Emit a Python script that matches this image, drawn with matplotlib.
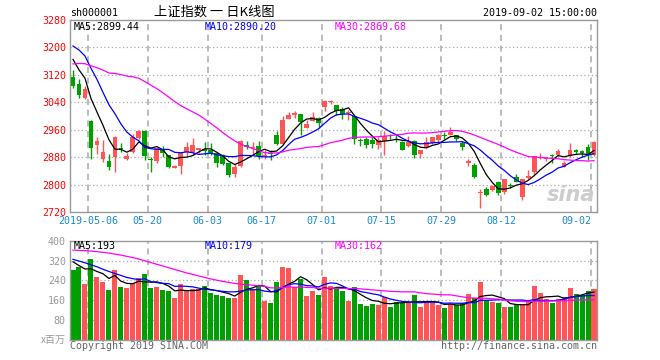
import matplotlib
matplotlib.use("Agg")
import matplotlib.pyplot as plt
import numpy as np
import pandas as pd

# ---------------- data ----------------
holidays = ['2019-05-01', '2019-05-02', '2019-05-03', '2019-06-07']
dates = pd.bdate_range('2019-04-26', '2019-09-02', freq='C', holidays=holidays)

opens = [3113, 3094, 3052, 2986, 2915, 2874, 2870, 2881, 2906, 2876,
         2895, 2935, 2956, 2875, 2868, 2900, 2886, 2848, 2854, 2895,
         2894, 2902, 2903, 2902, 2891, 2886, 2863, 2832, 2853, 2916,
         2906, 2913, 2884, 2893, 2944, 2917, 2991, 3004, 3005, 2966,
         2986, 2993, 3027, 3041, 3032, 3019, 3008, 3000, 2931, 2934,
         2929, 2915, 2926, 2940, 2934, 2923, 2913, 2927, 2889, 2910,
         2920, 2929, 2944, 2946, 2944, 2922, 2863, 2856, 2776, 2788,
         2785, 2808, 2778, 2800, 2822, 2764, 2819, 2837, 2877, 2876,
         2886, 2886, 2852, 2884, 2901, 2897, 2910, 2886]
highs = [3133, 3108, 3088, 2988, 2938, 2929, 2888, 2941, 2921, 2891,
         2947, 2958, 2958, 2881, 2907, 2913, 2886, 2856, 2895, 2923,
         2937, 2908, 2923, 2922, 2891, 2889, 2863, 2861, 2929, 2927,
         2923, 2927, 2900, 2902, 2957, 3000, 3011, 3015, 3005, 2988,
         3011, 2996, 3048, 3048, 3032, 3025, 3018, 3000, 2937, 2939,
         2939, 2939, 2956, 2948, 2944, 2927, 2941, 2930, 2902, 2939,
         2939, 2947, 2952, 2968, 2944, 2927, 2874, 2863, 2788, 2792,
         2798, 2810, 2815, 2806, 2830, 2816, 2842, 2883, 2893, 2881,
         2888, 2903, 2868, 2922, 2905, 2900, 2917, 2927]
lows = [3083, 3052, 3050, 2874, 2888, 2865, 2842, 2837, 2894, 2871,
        2893, 2934, 2872, 2837, 2864, 2881, 2847, 2847, 2831, 2884,
        2886, 2893, 2885, 2886, 2852, 2856, 2822, 2822, 2852, 2903,
        2888, 2876, 2874, 2871, 2915, 2915, 2991, 2993, 2946, 2964,
        2985, 2964, 3015, 3034, 3003, 2991, 2988, 2918, 2913, 2907,
        2907, 2903, 2886, 2933, 2925, 2900, 2910, 2878, 2878, 2907,
        2917, 2923, 2933, 2944, 2927, 2900, 2855, 2819, 2732, 2766,
        2780, 2770, 2773, 2790, 2807, 2756, 2815, 2829, 2876, 2870,
        2864, 2883, 2850, 2881, 2888, 2881, 2871, 2883]
closes = [3086.40, 3062.50, 3078.34, 2906.46, 2926.39, 2893.76, 2850.95, 2939.21, 2903.71, 2883.61,
          2938.68, 2955.71, 2882.30, 2870.60, 2905.97, 2891.70, 2852.52, 2852.99, 2892.38, 2909.91,
          2914.70, 2905.81, 2898.70, 2890.08, 2862.28, 2861.42, 2827.80, 2852.13, 2925.72, 2909.38,
          2910.74, 2881.97, 2887.62, 2890.16, 2917.80, 2987.12, 3001.98, 3008.15, 2982.07, 2976.28,
          2996.79, 2978.88, 3044.90, 3043.94, 3015.26, 3005.25, 3011.06, 2933.36, 2928.23, 2915.30,
          2917.76, 2930.55, 2942.19, 2937.62, 2931.69, 2901.95, 2924.20, 2886.97, 2899.94, 2923.28,
          2937.36, 2944.54, 2941.01, 2952.34, 2932.51, 2908.77, 2867.84, 2821.50, 2777.56, 2768.68,
          2794.55, 2774.75, 2814.99, 2797.26, 2808.91, 2815.80, 2823.82, 2883.10, 2880.00, 2880.33,
          2883.44, 2897.43, 2863.57, 2902.19, 2893.76, 2890.92, 2886.24, 2924.11]

ma5 = [3165.2, 3134.6, 3110.4, 3051.2, 3011.6, 2973.2, 2931.0, 2903.2, 2902.8, 2894.4,
       2903.4, 2924.4, 2913.0, 2906.4, 2910.8, 2901.4, 2880.8, 2875.0, 2879.2, 2880.0,
       2884.6, 2895.2, 2904.4, 2904.0, 2894.4, 2883.6, 2868.0, 2858.6, 2865.8, 2875.2,
       2885.2, 2896.0, 2903.2, 2896.0, 2897.8, 2913.0, 2937.0, 2961.0, 2979.4, 2991.0,
       2993.0, 2988.4, 2995.8, 3008.2, 3016.0, 3017.6, 3024.0, 3001.6, 2978.4, 2958.4,
       2941.0, 2925.0, 2926.8, 2928.8, 2932.2, 2929.0, 2927.6, 2916.6, 2909.0, 2907.2,
       2914.2, 2918.4, 2929.2, 2939.6, 2941.6, 2936.0, 2920.6, 2896.8, 2862.0, 2829.2,
       2806.4, 2787.8, 2786.4, 2790.2, 2798.2, 2802.4, 2812.2, 2825.8, 2842.4, 2856.6,
       2870.0, 2884.6, 2880.8, 2885.2, 2888.0, 2889.6, 2887.4, 2899.4]
ma10 = [3204.2, 3192.6, 3175.0, 3139.3, 3106.9, 3069.2, 3032.8, 3006.8, 2977.0, 2953.0,
        2938.3, 2927.7, 2908.1, 2904.6, 2902.6, 2902.4, 2902.6, 2894.0, 2892.8, 2895.4,
        2893.0, 2888.0, 2889.7, 2891.6, 2887.2, 2884.1, 2881.6, 2881.5, 2884.9, 2884.8,
        2884.4, 2882.0, 2880.9, 2880.9, 2886.5, 2899.1, 2916.5, 2932.1, 2937.7, 2944.4,
        2953.0, 2962.7, 2978.4, 2993.8, 3003.5, 3005.3, 3006.2, 2998.7, 2993.3, 2987.2,
        2979.3, 2974.5, 2964.2, 2953.6, 2945.3, 2935.0, 2926.3, 2921.7, 2918.9, 2919.7,
        2921.6, 2923.0, 2922.9, 2924.3, 2924.4, 2925.1, 2919.5, 2913.0, 2900.8, 2885.4,
        2871.2, 2854.2, 2841.6, 2826.1, 2813.7, 2804.4, 2800.0, 2806.1, 2816.3, 2827.4,
        2836.2, 2848.4, 2853.3, 2863.8, 2872.3, 2879.8, 2886.0, 2890.2]
ma30 = [3151.9, 3153.2, 3152.6, 3146.4, 3140.9, 3134.0, 3125.6, 3124.0, 3120.9, 3116.3,
        3114.4, 3109.9, 3100.3, 3090.1, 3079.8, 3067.9, 3054.9, 3042.0, 3030.3, 3021.0,
        3011.8, 3002.8, 2990.9, 2978.5, 2965.6, 2951.9, 2939.0, 2927.4, 2918.2, 2911.1,
        2905.2, 2899.2, 2892.9, 2892.4, 2892.1, 2895.2, 2900.2, 2902.5, 2905.1, 2908.2,
        2910.1, 2910.9, 2916.3, 2922.1, 2925.7, 2929.5, 2934.8, 2937.4, 2938.6, 2938.8,
        2938.9, 2939.7, 2941.2, 2942.8, 2945.1, 2946.5, 2949.7, 2950.8, 2950.0, 2950.4,
        2951.3, 2953.4, 2955.2, 2957.2, 2957.7, 2955.1, 2950.7, 2944.5, 2937.7, 2930.8,
        2924.0, 2917.2, 2909.6, 2901.3, 2894.5, 2888.2, 2881.9, 2880.3, 2878.7, 2877.5,
        2876.3, 2875.2, 2872.6, 2871.4, 2870.1, 2869.8, 2868.5, 2869.7]

volume = [282, 295, 225, 326, 254, 235, 201, 282, 213, 209,
          231, 250, 266, 209, 213, 201, 197, 170, 224, 201,
          204, 204, 217, 188, 181, 177, 170, 170, 262, 242,
          204, 221, 158, 150, 235, 294, 290, 212, 244, 177,
          197, 181, 255, 217, 208, 199, 158, 212, 145, 137,
          145, 141, 172, 134, 154, 150, 150, 181, 134, 158,
          150, 141, 130, 145, 141, 148, 185, 168, 235, 161,
          154, 150, 134, 134, 145, 145, 154, 217, 191, 164,
          150, 164, 172, 211, 185, 180, 199, 205]
vol_ma5 = [315, 300, 286, 287, 276, 267, 248, 260, 237, 228,
           227, 237, 234, 233, 234, 228, 217, 198, 201, 199,
           199, 201, 210, 203, 199, 193, 187, 177, 192, 204,
           210, 220, 217, 195, 194, 212, 225, 236, 255, 243,
           224, 202, 211, 205, 212, 212, 207, 199, 184, 170,
           159, 156, 148, 146, 149, 150, 152, 154, 154, 155,
           155, 153, 143, 145, 141, 141, 150, 157, 175, 179,
           181, 174, 167, 147, 143, 142, 142, 159, 170, 174,
           175, 177, 168, 172, 176, 182, 189, 193]
vol_ma10 = [325, 318, 311, 303, 295, 285, 276, 268, 260, 252,
            247, 243, 247, 235, 231, 228, 227, 216, 217, 216,
            214, 209, 204, 202, 199, 196, 194, 194, 197, 202,
            202, 203, 197, 194, 199, 211, 223, 227, 225, 219,
            218, 214, 224, 230, 228, 218, 205, 205, 195, 191,
            186, 182, 173, 165, 160, 155, 154, 151, 150, 152,
            152, 152, 148, 149, 148, 148, 151, 150, 160, 160,
            161, 162, 162, 161, 161, 161, 158, 163, 159, 159,
            158, 160, 164, 171, 175, 177, 179, 179]
vol_ma30 = [362, 361, 360, 358, 356, 353, 350, 346, 342, 337,
            332, 326, 319, 312, 305, 298, 291, 284, 277, 270,
            264, 258, 252, 246, 241, 236, 232, 228, 225, 223,
            221, 218, 216, 210, 210, 211, 214, 212, 213, 212,
            211, 209, 208, 209, 208, 208, 207, 208, 206, 204,
            202, 200, 198, 196, 195, 194, 194, 194, 190, 187,
            185, 183, 182, 182, 178, 174, 170, 169, 168, 168,
            166, 165, 161, 158, 156, 155, 155, 155, 156, 157,
            157, 158, 158, 160, 161, 161, 162, 162]

date_ticks = ['2019-05-06', '2019-05-20', '2019-06-03', '2019-06-17', '2019-07-01',
              '2019-07-15', '2019-07-29', '2019-08-12', '2019-09-02']
price_ticks = [2720, 2800, 2880, 2960, 3040, 3120, 3200, 3280]
vol_ticks = [80, 160, 240, 320, 400]

# ---------------- style ----------------
RED = '#ff5555'
GREEN = '#00a000'
GRID = '#aaaaaa'
SPINE = '#999999'
MONO = 'DejaVu Sans Mono'
CJK = ['Noto Sans CJK SC', 'DejaVu Sans']
FS = 7.2

W, H = 660, 360
fig = plt.figure(figsize=(W / 100, H / 100), dpi=100)
fig.patch.set_facecolor('white')


def fx(x):
    return x / W


def fy(y):
    return 1 - y / H


ax = fig.add_axes([fx(70), fy(212), fx(597) - fx(70), fy(20) - fy(212)])
axv = fig.add_axes([fx(70), fy(340), fx(597) - fx(70), fy(240.7) - fy(340)])

n = len(closes)
x = np.arange(n)
o = np.array(opens, float)
c = np.array(closes, float)
h = np.array(highs, float)
l = np.array(lows, float)
up = c >= o
cols = np.where(up, RED, GREEN)

date_str = [d.strftime('%Y-%m-%d') for d in dates]
tick_idx = [date_str.index(d) for d in date_ticks]
tick_pos = [i - 0.5 for i in tick_idx]
tick_lbl = [date_ticks[0]] + [d[5:] for d in date_ticks[1:]]

for a in (ax, axv):
    a.set_xlim(-0.5, n - 0.5)
    for s in a.spines.values():
        s.set_color(SPINE)
        s.set_linewidth(1.0)
    for p in tick_pos:
        a.axvline(p, color=GRID, lw=1.1, ls=(0, (4, 3)), zorder=0)
    a.set_facecolor('white')

# main panel
ax.set_ylim(2720, 3280)
for yv in price_ticks[1:-1]:
    ax.axhline(yv, color=GRID, lw=0.9, ls=(0, (1, 2)), zorder=0)
ax.vlines(x, l, h, colors=cols, lw=1.0, zorder=2)
body = np.maximum(np.abs(c - o), 2.2)
ax.bar(x, body, bottom=np.minimum(o, c), width=0.8, color=cols, lw=0, zorder=3)
ax.plot(x, ma5, color='black', lw=0.9, zorder=4)
ax.plot(x, ma10, color='#0000ff', lw=0.9, zorder=4)
ax.plot(x, ma30, color='#ff00ff', lw=0.9, zorder=4)
ax.set_yticks(price_ticks)
ax.set_yticklabels([str(t) for t in price_ticks], color='#ff0000', fontsize=FS, family=MONO)
ax.set_xticks(tick_pos)
ax.set_xticklabels(tick_lbl, color='#1a88d8', fontsize=FS, family=MONO)
ax.tick_params(length=0, pad=3)
ax.tick_params(axis='x', pad=3)
ax.get_xticklabels()[-1].set_horizontalalignment('right')

# volume panel
axv.set_ylim(0, 400)
for yv in vol_ticks[:-1]:
    axv.axhline(yv, color=GRID, lw=0.9, ls=(0, (1, 2)), zorder=0)
axv.bar(x, volume, width=0.84, color=cols, lw=0, zorder=2)
axv.plot(x, vol_ma5, color='black', lw=0.9, zorder=4)
axv.plot(x, vol_ma10, color='#0000ff', lw=0.9, zorder=4)
axv.plot(x, vol_ma30, color='#ff00ff', lw=0.9, zorder=4)
axv.set_yticks(vol_ticks)
axv.set_yticklabels([str(t) for t in vol_ticks], color='#999999', fontsize=FS, family=MONO)
axv.set_xticks([])
axv.tick_params(length=0, pad=3)

# texts
fig.text(fx(70), fy(13), 'sh000001', fontsize=FS, family=MONO, color='black', va='center', ha='left')
fig.text(fx(214), fy(12), '上证指数 一 日K线图', fontsize=9.5, family=CJK, color='black', va='center', ha='center')
fig.text(fx(597), fy(13), '2019-09-02 15:00:00', fontsize=FS, family=MONO, color='black', va='center', ha='right')

fig.text(fx(74), fy(26.5), 'MA5:2899.44', fontsize=FS, family=MONO, color='black', va='center')
fig.text(fx(205), fy(26.5), 'MA10:2890.20', fontsize=FS, family=MONO, color='#0000ff', va='center')
fig.text(fx(335), fy(26.5), 'MA30:2869.68', fontsize=FS, family=MONO, color='#ff00ff', va='center')

fig.text(fx(74), fy(246), 'MA5:193', fontsize=FS, family=MONO, color='black', va='center')
fig.text(fx(205), fy(246), 'MA10:179', fontsize=FS, family=MONO, color='#0000ff', va='center')
fig.text(fx(335), fy(246), 'MA30:162', fontsize=FS, family=MONO, color='#ff00ff', va='center')

fig.text(fx(66), fy(340), 'x百万', fontsize=FS, family=CJK, color='#999999', va='center', ha='right')
fig.text(fx(70), fy(346), 'Copyright 2019 SINA.COM', fontsize=FS, family=MONO, color='#666666', va='center', ha='left')
fig.text(fx(597), fy(346), 'http://finance.sina.com.cn', fontsize=FS, family=MONO, color='#666666', va='center', ha='right')

# watermark
fig.text(fx(595), fy(195), 'sina', fontsize=15, family='DejaVu Sans', style='italic', weight='bold',
         color='#cccccc', va='center', ha='right', zorder=1)

fig.savefig('out.png', dpi=100, facecolor='white')
